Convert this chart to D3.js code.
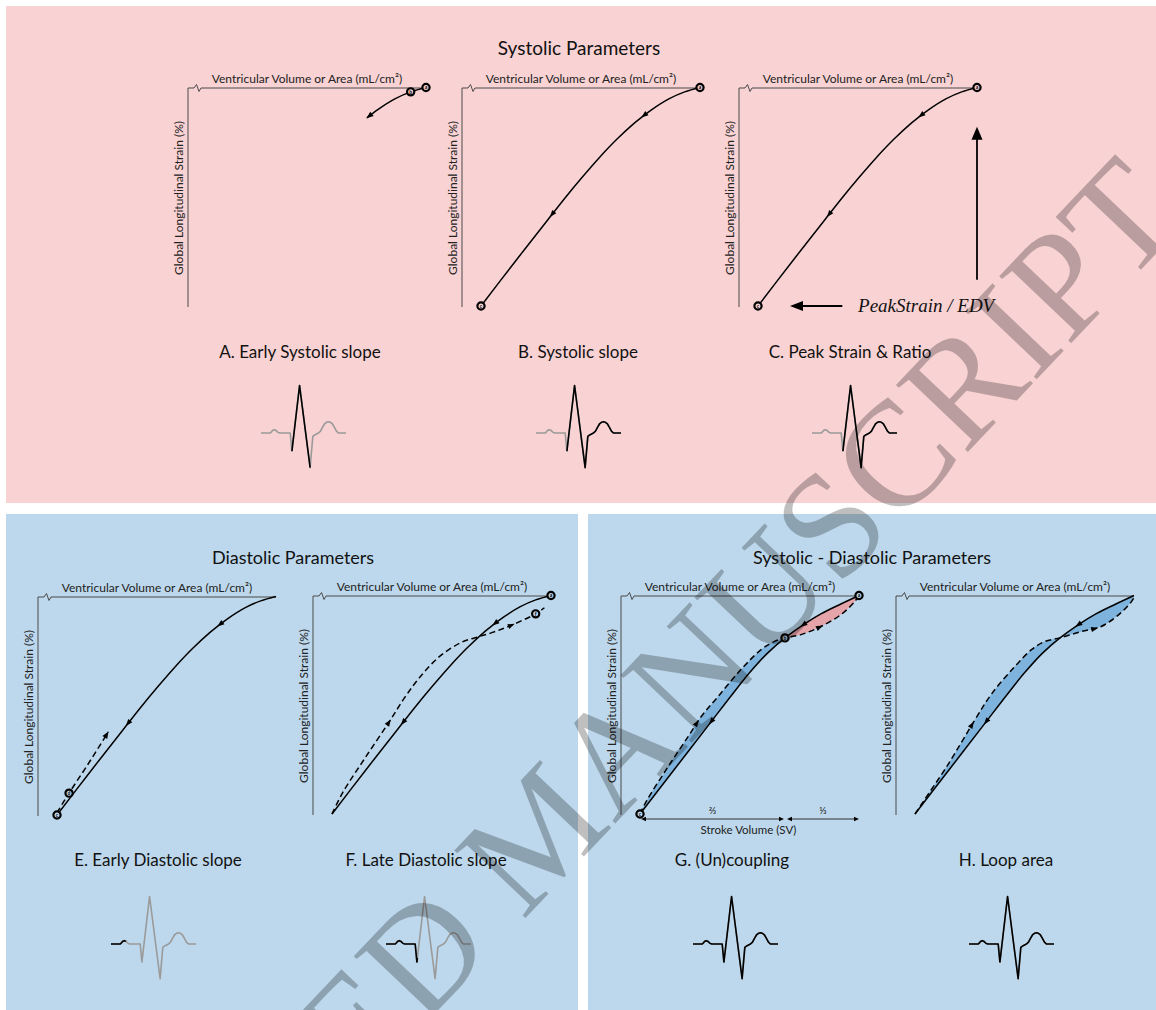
<!DOCTYPE html>
<html>
<head>
<meta charset="utf-8">
<script src="https://cdn.jsdelivr.net/npm/d3@7"></script>
<style>
  body { margin: 0; background: #fff; }
  svg { display: block; font-family: Lato, "Open Sans", sans-serif; }
</style>
</head>
<body>
<div id="chart"></div>
<script>
// normalised loop coordinates: v = volume (0 = ESV, 1 = EDV), s = strain (0 at EDV, 1 = peak strain)
const systolicCurve = [[1, 0], [0.93, 0.02], [0.86, 0.051], [0.78, 0.101], [0.73, 0.139], [0.70, 0.163],
  [0.62, 0.237], [0.54, 0.321], [0.46, 0.413], [0.38, 0.51], [0.30, 0.612], [0.15, 0.804], [0, 1]];
const loopSolid = [[0, 1], [0.16, 0.792], [0.32, 0.584], [0.42, 0.454], [0.50, 0.354], [0.58, 0.266],
  [0.662, 0.194], [0.745, 0.134], [0.826, 0.084], [0.915, 0.04], [1, 0]];
const earlyDiastolicDash = [[0, 0.99], [0.055, 0.90], [0.14, 0.77], [0.234, 0.62]];
const lateDiastolicDash = [[0, 1], [0.05, 0.90], [0.15, 0.745], [0.26, 0.58], [0.33, 0.47], [0.40, 0.375],
  [0.49, 0.28], [0.59, 0.215], [0.665, 0.19], [0.73, 0.17], [0.81, 0.14], [0.93, 0.084], [0.97, 0.056]];
const couplingDash = [[0, 1], [0.03, 0.94], [0.128, 0.784], [0.219, 0.647], [0.279, 0.555], [0.356, 0.463],
  [0.461, 0.339], [0.553, 0.248], [0.612, 0.211], [0.662, 0.194], [0.735, 0.179], [0.826, 0.142],
  [0.918, 0.087], [0.977, 0.032], [1, 0]];
const loopAreaDash = [[0, 1], [0.04, 0.94], [0.15, 0.775], [0.27, 0.575], [0.35, 0.45], [0.455, 0.326],
  [0.532, 0.248], [0.591, 0.211], [0.662, 0.194], [0.759, 0.165], [0.85, 0.142], [0.941, 0.078],
  [0.995, 0.018], [1, 0]];
const solidArrowV = [0.745, 0.325];
const dashArrowV = [0.26, 0.82];
const earlySystolicPoints = 5; // a -> end of early systole

// ECG glyph (ms, mV)
const ecgTime = [0, 93, 107, 120, 133, 147, 160, 173, 190, 293, 310, 387, 493, 520, 543, 577, 597, 617, 637,
  657, 677, 697, 717, 737, 757, 777, 853];
const ecgAmp = [0, 0, 0.03, 0.06, 0.07, 0.06, 0.035, 0.01, 0, 0, -0.38, 1.0, -0.73, -0.07, -0.035, 0, 0.04,
  0.12, 0.19, 0.225, 0.235, 0.225, 0.19, 0.12, 0.04, 0, 0];

const panelLabels = ['A. Early Systolic slope', 'B. Systolic slope', 'C. Peak Strain & Ratio',
  'E. Early Diastolic slope', 'F. Late Diastolic slope', 'G. (Un)coupling', 'H. Loop area'];
const ecgActive = [[310, 493], [310, 853], [310, 853], [0, 150], [0, 315], [0, 853], [0, 853]];
const sectionTitles = ['Systolic Parameters', 'Diastolic Parameters', 'Systolic - Diastolic Parameters'];

const pink = '#f9d2d3', blue = '#bdd8ec';
const layout = [
  {ax: 188, ay: 88, lx: 300, ly: 358, ex: 261, ey: 433, bg: pink},
  {ax: 462, ay: 88, lx: 578, ly: 358, ex: 536, ey: 433, bg: pink},
  {ax: 739, ay: 88, lx: 850, ly: 358, ex: 812, ey: 433, bg: pink},
  {ax: 38, ay: 597, lx: 158, ly: 866, ex: 111, ey: 944, bg: blue},
  {ax: 313, ay: 596, lx: 426, ly: 866, ex: 386, ey: 944, bg: blue},
  {ax: 621, ay: 596, lx: 732, ly: 866, ex: 693, ey: 944, bg: blue},
  {ax: 896, ay: 596, lx: 1006, ly: 866, ex: 969, ey: 944, bg: blue}
];

const svg = d3.select('#chart').append('svg')
  .attr('width', 1156)
  .attr('height', 1010);

svg.append('rect').attr('x', 6).attr('y', 6).attr('width', 1150).attr('height', 497).attr('fill', pink);
svg.append('rect').attr('x', 6).attr('y', 514).attr('width', 572).attr('height', 496).attr('fill', blue);
svg.append('rect').attr('x', 588).attr('y', 514).attr('width', 568).attr('height', 496).attr('fill', blue);

[[579, 55, 19], [293, 564, 18], [872, 564, 18]].forEach((p, i) => {
  svg.append('text').attr('x', p[0]).attr('y', p[1])
    .attr('text-anchor', 'middle').style('font-size', p[2] + 'px').attr('fill', '#111')
    .text(sectionTitles[i]);
});

function curveLine(x, y) {
  return d3.line().x(d => x(d[0])).y(d => y(d[1])).curve(d3.curveCatmullRom.alpha(0.5));
}

function arrowHead(g, px, py, ang, len, half) {
  g.append('path')
    .attr('d', `M${len / 2},0L${-len / 2},${-half}L${-len / 2},${half}Z`)
    .attr('transform', `translate(${px},${py}) rotate(${ang})`)
    .attr('fill', '#000');
}

// small arrowhead sitting on a path, where the path passes a given x
function arrowOnPath(g, node, xTarget) {
  const L = node.getTotalLength();
  let best = 0, bd = 1e9;
  for (let l = 0; l <= L; l += 0.5) {
    const d = Math.abs(node.getPointAtLength(l).x - xTarget);
    if (d < bd) { bd = d; best = l; }
  }
  const p0 = node.getPointAtLength(Math.max(0, best - 1.5));
  const p1 = node.getPointAtLength(Math.min(L, best + 1.5));
  const p = node.getPointAtLength(best);
  arrowHead(g, p.x, p.y, Math.atan2(p1.y - p0.y, p1.x - p0.x) * 180 / Math.PI, 7, 2.6);
}

function arrowAtEnd(g, node) {
  const L = node.getTotalLength();
  const p0 = node.getPointAtLength(L - 3), p = node.getPointAtLength(L);
  const ang = Math.atan2(p.y - p0.y, p.x - p0.x);
  arrowHead(g, p.x - 3 * Math.cos(ang), p.y - 3 * Math.sin(ang), ang * 180 / Math.PI, 7, 2.8);
}

function marker(g, px, py, letter, bg) {
  g.append('circle').attr('cx', px).attr('cy', py).attr('r', 3.6)
    .attr('fill', bg).attr('stroke', '#000').attr('stroke-width', 2.2);
  g.append('text').attr('x', px).attr('y', py + 1.8)
    .attr('text-anchor', 'middle').style('font-size', '5px').style('font-weight', 'bold')
    .text(letter);
}

function drawSolid(g, line, pts) {
  return g.append('path').attr('d', line(pts))
    .attr('fill', 'none').attr('stroke', '#000').attr('stroke-width', 1.5).node();
}

function drawDash(g, line, pts) {
  return g.append('path').attr('d', line(pts))
    .attr('fill', 'none').attr('stroke', '#000').attr('stroke-width', 1.5)
    .attr('stroke-dasharray', '6,3.5').node();
}

function fillBetween(g, line, a, b, color) {
  const d = line(a) + 'L' + line(b.slice().reverse()).slice(1) + 'Z';
  g.append('path').attr('d', d).attr('fill', color).attr('stroke', 'none');
}

function drawFrame(i) {
  const c = layout[i];
  const g = svg.append('g');
  const x = d3.scaleLinear().domain([0, 1]).range([c.ax + 19, c.ax + 238]);
  const y = d3.scaleLinear().domain([0, 1]).range([c.ay - 0.5, c.ay + 218]);
  const axisPts = [[c.ax, c.ay + 219], [c.ax, c.ay], [c.ax + 6, c.ay], [c.ax + 8.5, c.ay - 3.5],
    [c.ax + 11, c.ay + 3.5], [c.ax + 13, c.ay], [x(1), c.ay]];
  g.append('path').attr('d', d3.line()(axisPts))
    .attr('fill', 'none').attr('stroke', '#4a4a4a').attr('stroke-width', 1);
  g.append('text').attr('x', c.ax + 119).attr('y', c.ay - 5)
    .attr('text-anchor', 'middle').style('font-size', '12px').attr('fill', '#222')
    .text('Ventricular Volume or Area (mL/cm²)');
  g.append('text').attr('transform', `translate(${c.ax - 5},${c.ay + 110}) rotate(-90)`)
    .attr('text-anchor', 'middle').style('font-size', '12px').attr('fill', '#222')
    .text('Global Longitudinal Strain (%)');
  g.append('text').attr('x', c.lx).attr('y', c.ly)
    .attr('text-anchor', 'middle').style('font-size', '17px').attr('fill', '#111')
    .text(panelLabels[i]);
  drawEcg(g, i);
  return {g, x, y, line: curveLine(x, y), bg: c.bg};
}

function sliceTrace(pts, t0, t1) {
  const out = [];
  for (let k = 0; k < pts.length; k++) {
    const p = pts[k];
    if (p[0] >= t0 && p[0] <= t1) out.push(p);
    if (k < pts.length - 1) {
      const q = pts[k + 1];
      [t0, t1].forEach(t => {
        if (t > p[0] && t < q[0]) out.push([t, p[1] + (q[1] - p[1]) * (t - p[0]) / (q[0] - p[0])]);
      });
    }
  }
  return out.sort((a, b) => a[0] - b[0]);
}

function drawEcg(g, i) {
  const c = layout[i];
  const ex = d3.scaleLinear().domain([0, 853]).range([c.ex, c.ex + 85]);
  const ey = d3.scaleLinear().domain([0, 1]).range([c.ey, c.ey - 47.5]);
  const line = d3.line().x(d => ex(d[0])).y(d => ey(d[1]));
  const pts = ecgTime.map((t, k) => [t, ecgAmp[k]]);
  g.append('path').attr('d', line(pts)).attr('fill', 'none')
    .attr('stroke', '#9a9a9a').attr('stroke-width', 1.6).attr('stroke-linejoin', 'round');
  const act = sliceTrace(pts, ecgActive[i][0], ecgActive[i][1]);
  g.append('path').attr('d', line(act)).attr('fill', 'none')
    .attr('stroke', '#000').attr('stroke-width', 1.6).attr('stroke-linejoin', 'round');
}

const last = systolicCurve.length - 1;

// A. early systolic slope
(function () {
  const p = drawFrame(0);
  const n = drawSolid(p.g, p.line, systolicCurve.slice(0, earlySystolicPoints));
  arrowAtEnd(p.g, n);
  marker(p.g, p.x(systolicCurve[1][0]), p.y(systolicCurve[1][1]), 'b', p.bg);
  marker(p.g, p.x(1), p.y(0), 'a', p.bg);
})();

// B. systolic slope
(function () {
  const p = drawFrame(1);
  const n = drawSolid(p.g, p.line, systolicCurve);
  solidArrowV.forEach(v => arrowOnPath(p.g, n, p.x(v)));
  marker(p.g, p.x(1), p.y(0), 'a', p.bg);
  marker(p.g, p.x(systolicCurve[last][0]), p.y(systolicCurve[last][1]), 'c', p.bg);
})();

// C. peak strain & ratio
(function () {
  const p = drawFrame(2);
  const n = drawSolid(p.g, p.line, systolicCurve);
  solidArrowV.forEach(v => arrowOnPath(p.g, n, p.x(v)));
  marker(p.g, p.x(1), p.y(0), 'a', p.bg);
  marker(p.g, p.x(0), p.y(1), 'c', p.bg);
  p.g.append('line').attr('x1', p.x(1)).attr('x2', p.x(1)).attr('y1', p.y(0.88)).attr('y2', p.y(0.2))
    .attr('stroke', '#000').attr('stroke-width', 1.8);
  arrowHead(p.g, p.x(1), p.y(0.18) + 6.5, -90, 13, 5.5);
  p.g.append('line').attr('x1', p.x(0.385)).attr('x2', p.x(0.17)).attr('y1', p.y(1)).attr('y2', p.y(1))
    .attr('stroke', '#000').attr('stroke-width', 1.8);
  arrowHead(p.g, p.x(0.146) + 6.5, p.y(1), 180, 13, 5);
  p.g.append('text').attr('x', p.x(0.457)).attr('y', p.y(1) + 6)
    .style('font-family', '"Liberation Serif", "Times New Roman", serif')
    .style('font-style', 'italic').style('font-size', '19px').attr('fill', '#111')
    .text('PeakStrain / EDV');
})();

// E. early diastolic slope
(function () {
  const p = drawFrame(3);
  const n = drawSolid(p.g, p.line, systolicCurve);
  solidArrowV.forEach(v => arrowOnPath(p.g, n, p.x(v)));
  const dn = drawDash(p.g, p.line, earlyDiastolicDash);
  arrowAtEnd(p.g, dn);
  marker(p.g, p.x(earlyDiastolicDash[1][0]), p.y(earlyDiastolicDash[1][1]), 'd', p.bg);
  marker(p.g, p.x(0), p.y(1), 'c', p.bg);
})();

// F. late diastolic slope
(function () {
  const p = drawFrame(4);
  const n = drawSolid(p.g, p.line, systolicCurve);
  solidArrowV.forEach(v => arrowOnPath(p.g, n, p.x(v)));
  const dn = drawDash(p.g, p.line, lateDiastolicDash);
  dashArrowV.forEach(v => arrowOnPath(p.g, dn, p.x(v)));
  marker(p.g, p.x(lateDiastolicDash[11][0]), p.y(lateDiastolicDash[11][1]), 'f', p.bg);
  marker(p.g, p.x(1), p.y(0), 'a', p.bg);
})();

// G. (un)coupling
(function () {
  const p = drawFrame(5);
  fillBetween(p.g, p.line, loopSolid.slice(0, 7), couplingDash.slice(0, 10), '#7db3dc');
  fillBetween(p.g, p.line, loopSolid.slice(6), couplingDash.slice(9), '#e4a4aa');
  const n = drawSolid(p.g, p.line, loopSolid.slice().reverse());
  solidArrowV.forEach(v => arrowOnPath(p.g, n, p.x(v)));
  const dn = drawDash(p.g, p.line, couplingDash);
  dashArrowV.forEach(v => arrowOnPath(p.g, dn, p.x(v)));
  marker(p.g, p.x(1), p.y(0), 'a', p.bg);
  marker(p.g, p.x(loopSolid[6][0]), p.y(loopSolid[6][1]), 'b', p.bg);
  marker(p.g, p.x(0), p.y(1), 'c', p.bg);
  // stroke volume split
  const yy = p.y(1) + 5, xb = p.x(loopSolid[6][0]);
  [[p.x(0) + 1, xb - 1, '⅔'], [xb + 2, p.x(1), '⅓']].forEach(s => {
    p.g.append('line').attr('x1', s[0] + 3).attr('x2', s[1] - 3).attr('y1', yy).attr('y2', yy)
      .attr('stroke', '#333').attr('stroke-width', 1);
    arrowHead(p.g, s[0] + 2.5, yy, 180, 5, 2.2);
    arrowHead(p.g, s[1] - 2.5, yy, 0, 5, 2.2);
    p.g.append('text').attr('x', (s[0] + s[1]) / 2).attr('y', yy - 5)
      .attr('text-anchor', 'middle').style('font-size', '10px').attr('fill', '#222').text(s[2]);
  });
  p.g.append('text').attr('x', p.x(0.495)).attr('y', yy + 15)
    .attr('text-anchor', 'middle').style('font-size', '11.5px').attr('fill', '#222')
    .text('Stroke Volume (SV)');
})();

// H. loop area
(function () {
  const p = drawFrame(6);
  fillBetween(p.g, p.line, loopSolid.slice(0, 7), loopAreaDash.slice(0, 9), '#7db3dc');
  fillBetween(p.g, p.line, loopSolid.slice(6), loopAreaDash.slice(8), '#7db3dc');
  const n = drawSolid(p.g, p.line, loopSolid.slice().reverse());
  solidArrowV.forEach(v => arrowOnPath(p.g, n, p.x(v)));
  const dn = drawDash(p.g, p.line, loopAreaDash);
  dashArrowV.forEach(v => arrowOnPath(p.g, dn, p.x(v)));
})();

// watermark
svg.append('text')
  .attr('transform', 'translate(1188,220) rotate(-46.5)')
  .attr('text-anchor', 'end')
  .style('font-family', '"Liberation Serif", "Times New Roman", serif')
  .style('font-size', '150px')
  .attr('fill', '#000')
  .attr('fill-opacity', 0.25)
  .style('pointer-events', 'none')
  .text('ACCEPTED MANUSCRIPT');
</script>
</body>
</html>
